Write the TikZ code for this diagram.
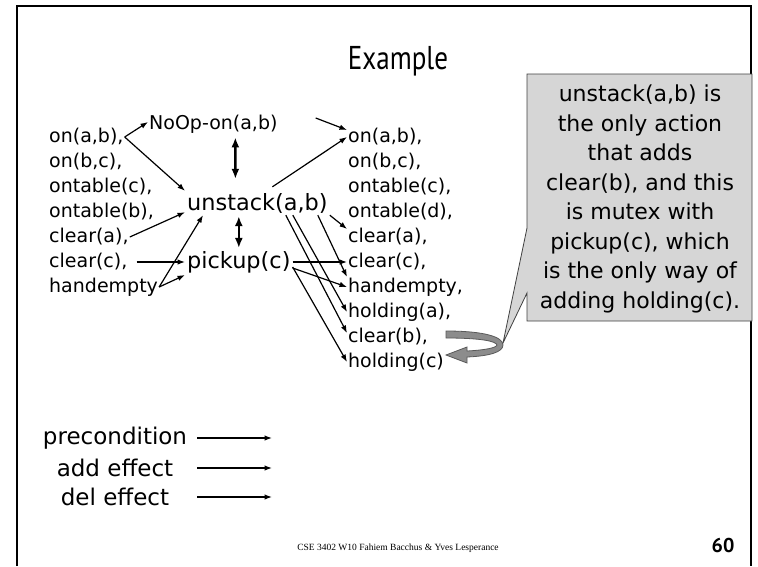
\documentclass[tikz,border=0pt]{standalone}
\usepackage{fontspec}
\setmainfont{DejaVu Sans}
\newfontfamily\titlefont[FakeStretch=0.82]{PT Sans}
\newfontfamily\pagefont{PT Sans}
\newfontfamily\footfont{Liberation Serif}
\usetikzlibrary{arrows.meta}

\begin{document}
\begin{tikzpicture}[x=1pt,y=-1pt,>={Latex[length=7.5pt,width=5.5pt]}]
        \useasboundingbox (0,0) rectangle (758,566);
        % slide frame
        \draw[line width=1.5pt] (17,566) -- (17,6) -- (751,6) -- (751,566);
        \node (title) at (398,61) {\titlefont\fontsize{33}{36}\selectfont Example};
        % initial state facts
        \begin{scope}[every node/.style={anchor=west,inner sep=1pt,font=\fontsize{19}{23}\selectfont}]
            \node (l1) at (48,137) {on(a,b),};
            \node (l2) at (48,162) {on(b,c),};
            \node (l3) at (48,187) {ontable(c),};
            \node (l4) at (48,212) {ontable(b),};
            \node (l5) at (48,237) {clear(a),};
            \node (l6) at (48,262) {clear(c),};
            \node (l7) at (48,287) {handempty};
        \end{scope}
        % actions
        \node (noop) [anchor=west,inner sep=1pt,font=\fontsize{19}{23}\selectfont] at (148,124) {NoOp-on(a,b)};
        \begin{scope}[every node/.style={anchor=west,inner sep=2pt,font=\fontsize{22.4}{26}\selectfont}]
            \node (unstack) at (185,203) {unstack(a,b)};
            \node (pickup) at (185,262) {pickup(c)};
        \end{scope}
        % next level facts
        \begin{scope}[every node/.style={anchor=west,inner sep=1pt,font=\fontsize{19}{23}\selectfont}]
            \node (r1) at (347,137) {on(a,b),};
            \node (r2) at (347,162) {on(b,c),};
            \node (r3) at (347,187) {ontable(c),};
            \node (r4) at (347,212) {ontable(d),};
            \node (r5) at (347,237) {clear(a),};
            \node (r6) at (347,262) {clear(c),};
            \node (r7) at (347,287) {handempty,};
            \node (r8) at (347,312) {holding(a),};
            \node (r9) at (347,337) {clear(b),};
            \node (r10) at (347,362) {holding(c)};
        \end{scope}
        % preconditions
        \path [->] (l1.east) edge[draw=black,line width=1.2pt] ([yshift=2pt]noop.west);
        \path [->] (l1.east) edge[draw=black,line width=1.2pt] (unstack.north west);
        \path [->] (l5.east) edge[draw=black,line width=1.2pt] ([yshift=3pt]unstack.south west);
        \path [->] (l6.east) edge[draw=black,line width=1.2pt,shorten <=8pt] (pickup.west);
        \path [->] (l7.east) edge[draw=black,line width=1.2pt] ([xshift=18pt]unstack.south west);
        \path [->] (l7.east) edge[draw=black,line width=1.2pt] (pickup.south west);
        % mutex links
        \path [<->,>={Latex[length=10pt,width=8pt]}] ([xshift=22pt]noop.south) edge[draw=black,line width=2.4pt,shorten <=3pt,shorten >=12pt] ([xshift=-22pt]unstack.north);
        \path [<->,>={Latex[length=10pt,width=8pt]}] (unstack.south -| pickup.north) edge[draw=black,line width=2.4pt,shorten <=1pt,shorten >=1pt] (pickup.north);
        % effects
        \path [->] ([xshift=37pt,yshift=6pt]noop.east) edge[draw=black,line width=1.2pt] ([yshift=7pt]r1.west);
        \path [->] ([xshift=15pt,yshift=4pt]unstack.north) edge[draw=black,line width=1.2pt] (r1.west);
        \path [->] (unstack.south east) edge[draw=black,line width=1.2pt] ([yshift=8pt]r5.west);
        \path [->] ([xshift=-12pt]unstack.south east) edge[draw=black,line width=1.2pt] ([yshift=10pt]r7.west);
        \path [->] ([xshift=-37pt]unstack.south east) edge[draw=black,line width=1.2pt] (r8.west);
        \path [->] ([xshift=-44pt]unstack.south east) edge[draw=black,line width=1.2pt] ([yshift=4pt]r9.west);
        \path [->] (pickup.east) edge[draw=black,line width=1.2pt] (r6.west);
        \path [->] ([yshift=-6pt]pickup.east) edge[draw=black,line width=1.2pt] (r7.west);
        \path [->] ([yshift=-5pt]pickup.east) edge[draw=black,line width=1.2pt] (r10.west);
        % callout
        \filldraw[fill=black!16,draw=black!75,line width=0.8pt] (527,74) -- (752,74) -- (752,321) -- (527,321) -- (527,293) -- (503,343) -- (527,228) -- cycle;
        \node (note) [align=center,font=\fontsize{22}{29.5}\selectfont] at (640,199) {unstack(a,b) is\\the only action\\that adds\\clear(b), and this\\is mutex with\\pickup(c), which\\is the only way of\\adding holding(c).};
        % curled arrow to clear(b) and holding(c)
        \filldraw[fill=black!45,draw=black!65,line width=0.8pt] (446,331) .. controls (485,331) and (503,337) .. (503,345)
            .. controls (503,352) and (490,356) .. (467,357) -- (467,363) -- (446,355) -- (467,347) -- (467,351)
            .. controls (485,350) and (496,348) .. (497,345) .. controls (496,341) and (480,338) .. (446,338) -- cycle;
        % legend
        \begin{scope}[every node/.style={inner sep=0pt,minimum width=164pt,align=center,font=\fontsize{23}{28}\selectfont}]
            \node (pre) at (115,438) {precondition};
            \node (add) at (115,468) {add effect};
            \node (del) at (115,497) {del effect};
        \end{scope}
        \coordinate (pre-end) at (272,438);
        \coordinate (add-end) at (272,468);
        \coordinate (del-end) at (272,497);
        \path [->] (pre.east) edge[draw=black,line width=1.2pt] (pre-end);
        \path [->] (add.east) edge[draw=black,line width=1.2pt] (add-end);
        \path [->] (del.east) edge[draw=black,line width=1.2pt] (del-end);
        % footer
        \node (foot) at (398,548) {\footfont\fontsize{9.5}{11}\selectfont CSE 3402 W10 Fahiem Bacchus \& Yves Lesperance};
        \node (page) at (723,545) {\pagefont\bfseries\fontsize{20}{24}\selectfont 60};
    \end{tikzpicture}
\end{document}
